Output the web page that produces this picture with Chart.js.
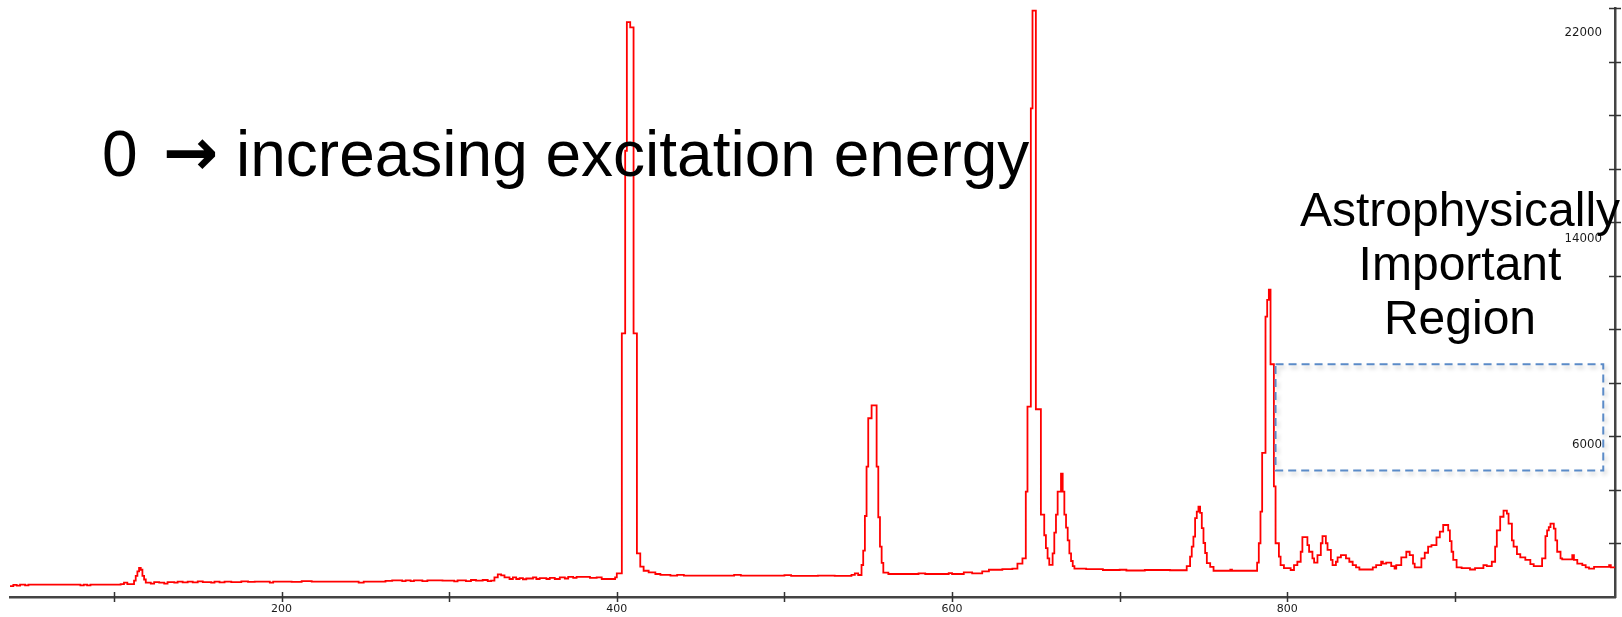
<!DOCTYPE html>
<html>
<head>
<meta charset="utf-8">
<script src="https://cdn.jsdelivr.net/npm/chart.js@4/dist/chart.umd.min.js"></script>
<style>
  html, body { margin: 0; padding: 0; background: #fff; }
  #wrap { position: relative; width: 1622px; height: 617px; overflow: hidden; }
  canvas { position: absolute; left: 0; top: 0; }
  .note { position: absolute; color: #000; font-family: "Liberation Sans", Arial, sans-serif; white-space: nowrap; }
  #t0 { left: 102px; top: 122px; font-size: 64px; line-height: 64px; }
  #tarr { left: 163px; top: 120px; font-family: "DejaVu Sans", sans-serif; font-weight: bold; font-size: 66px; line-height: 66px; }
  #t1 { left: 236px; top: 122px; font-size: 64px; line-height: 64px; }
  #region { left: 1260px; width: 400px; top: 183px; font-size: 48px; line-height: 54px; text-align: center; }
  .ylab { position: absolute; font-family: "DejaVu Sans", sans-serif; font-size: 11.8px; line-height: 14px; height: 14px; color: #1a1a1a; text-align: right; white-space: nowrap; }
</style>
</head>
<body>
<div id="wrap">
  <canvas id="c" width="1622" height="617"></canvas>
  <div id="ylabels"></div>
  <div class="note" id="t0">0</div>
  <div class="note" id="tarr">→</div>
  <div class="note" id="t1">increasing excitation energy</div>
  <div class="note" id="region">Astrophysically<br>Important<br>Region</div>
</div>
<script>
// ---- data (channel = start of bin, counts held until next channel) ----
const channel = [
  38,40,42,44,47,49,80,82,84,86,104,106,108,112,113,114,115,116,117,118,119,122,124,127,130,132,136,138,141,144,147,150,153,158,160,163,166,170,176,180,184,190,193,195,206,212,218,230,246,249,262,266,272,274,277,279,284,287,296,300,303,305,310,313,316,320,323,325,327,329,331,333,336,338,340,342,344,346,350,352,354,358,360,363,366,369,371,374,376,382,384,388,391,397,399,
  400,403,405,406,408,410,412,414,416,419,423,426,432,436,440,470,474,500,504,520,530,540,542,544,
  546,547,548,549,550,552,555,556,557,558,559,562,580,584,598,600,607,612,618,622,630,636,639,642,644,645,647,648,650,653,655,656,657,658,660,661,662,663,665,666,667,668,669,670,671,672,673,680,690,700,704,715,730,
  740,742,743,744,745,746,747,748,749,750,751,752,754,756,766,767,782,783,784,785,787,788,789,790,792,793,795,796,798,802,804,806,808,809,812,813,815,816,818,820,821,823,824,826,827,829,830,832,835,837,839,841,843,851,853,856,857,859,862,864,865,868,871,873,875,876,880,882,884,886,889,891,893,896,897,898,899,901,904,909,912,917,919,922,924,925,927,929,931,932,934,935,937,939,942,945,947,952,954,955,956,957,959,960,961,963,964,970,971,973,976,978,980,983,992,993,995.5
];
const counts = [
  420,470,440,480,450,480,450,480,450,480,500,560,500,640,820,1000,1130,1060,820,680,560,520,580,560,520,580,560,600,570,600,570,610,580,560,600,570,600,580,610,590,600,600,560,600,590,620,600,600,560,600,630,650,620,650,620,650,620,650,640,640,610,650,620,660,640,660,620,640,760,880,840,760,700,760,700,730,690,720,760,700,730,700,740,700,760,720,780,740,780,780,740,760,700,700,760,
  920,10250,17350,22350,22150,10250,1700,1180,1020,960,895,860,830,860,830,860,830,850,820,830,820,860,920,855,
  1245,1800,3150,5070,6950,7450,5070,3100,1960,1330,950,895,920,895,930,895,960,920,1000,1060,1080,1100,1300,1500,4100,7400,19000,22800,7300,3200,2400,1900,1500,1250,1700,2500,3200,4100,4800,4100,3200,2700,2200,1700,1400,1200,1100,1080,1050,1060,1030,1050,1040,
  1200,1570,1960,2350,3070,3320,3510,3270,2680,2100,1710,1320,1170,1020,1060,1020,1340,2090,3320,5600,10900,11550,11950,9050,4300,2090,1570,1240,1120,1050,1240,1370,1760,2330,2020,1760,1500,1340,1630,2090,2370,2090,1830,1440,1240,1370,1540,1630,1500,1370,1240,1150,1070,1150,1240,1370,1300,1340,1200,1100,1240,1540,1760,1630,1300,1150,1500,1720,1960,2020,2320,2540,2800,2590,2170,1760,1440,1150,1120,1070,1120,1240,1200,1370,1960,2590,3120,3360,3240,2850,2200,1960,1670,1540,1440,1280,1200,1500,2370,2590,2720,2850,2660,2200,1760,1500,1460,1630,1440,1300,1240,1150,1100,1170,1240,1150,1150
];
const xRange = [38, 995.5];
const yRange = [0, 22900];
const xTickStep = 100;
const xLabelled = [200, 400, 600, 800];
const yTickStep = 2000;
const yLabelled = [6000, 14000, 22000];
const regionBox = { x: [793, 988.5], y: [4920, 9050] };

const points = channel.map((c, i) => ({ x: c, y: counts[i] }));

// tick marks crossing both axes, positioned by the chart's scales
const axisPlugin = {
  id: 'crossTicks',
  afterDraw(chart) {
    const ctx = chart.ctx;
    const xs = chart.scales.x, ys = chart.scales.y;
    const area = chart.chartArea;
    ctx.save();
    ctx.strokeStyle = '#333';
    ctx.lineWidth = 1.5;
    xs.ticks.forEach(t => {
      const px = Math.round(xs.getPixelForValue(t.value)) + 0.5;
      ctx.beginPath(); ctx.moveTo(px, area.bottom - 5); ctx.lineTo(px, area.bottom + 5); ctx.stroke();
    });
    ys.ticks.forEach(t => {
      if (t.value <= 0) return;
      const py = Math.round(ys.getPixelForValue(t.value)) + 0.5;
      ctx.beginPath(); ctx.moveTo(area.right - 6, py); ctx.lineTo(area.right + 6, py); ctx.stroke();
    });
    ctx.restore();
  }
};

const boxPlugin = {
  id: 'regionBox',
  afterDatasetsDraw(chart) {
    const ctx = chart.ctx;
    const xs = chart.scales.x, ys = chart.scales.y;
    const x1 = xs.getPixelForValue(regionBox.x[0]), x2 = xs.getPixelForValue(regionBox.x[1]);
    const y1 = ys.getPixelForValue(regionBox.y[1]), y2 = ys.getPixelForValue(regionBox.y[0]);
    ctx.save();
    ctx.strokeStyle = '#5B8BC8';
    ctx.lineWidth = 2;
    ctx.setLineDash([8, 5]);
    ctx.shadowColor = 'rgba(0,0,0,0.22)';
    ctx.shadowBlur = 4;
    ctx.shadowOffsetX = 2;
    ctx.shadowOffsetY = 3;
    ctx.strokeRect(x1, y1, x2 - x1, y2 - y1);
    ctx.restore();
  }
};

const chart = new Chart(document.getElementById('c'), {
  type: 'line',
  data: {
    datasets: [{
      data: points,
      borderColor: '#ff0000',
      borderWidth: 1.8,
      pointRadius: 0,
      stepped: true,
      tension: 0,
      fill: false
    }]
  },
  options: {
    responsive: false,
    devicePixelRatio: 1,
    animation: false,
    events: [],
    layout: { padding: { left: 10, top: 8, right: 0, bottom: 0 } },
    plugins: { legend: { display: false }, tooltip: { enabled: false } },
    scales: {
      x: {
        type: 'linear',
        min: xRange[0], max: xRange[1],
        ticks: {
          stepSize: xTickStep, includeBounds: false, autoSkip: false, maxRotation: 0,
          padding: -2,
          color: '#1a1a1a',
          font: { family: 'DejaVu Sans', size: 11 },
          callback: v => xLabelled.includes(v) ? String(v) : ''
        },
        grid: { display: false },
        border: { display: true, color: '#444', width: 2.5 },
        afterFit: s => { s.height = 20; }
      },
      y: {
        type: 'linear',
        position: 'right',
        min: yRange[0], max: yRange[1],
        ticks: { stepSize: yTickStep, includeBounds: false, autoSkip: false, display: false },
        grid: { display: false },
        border: { display: true, color: '#444', width: 2.5 },
        afterFit: s => { s.width = 7; }
      }
    }
  },
  plugins: [axisPlugin, boxPlugin]
});

// y tick labels, placed inside the plot left of the right axis, from the y scale
(function placeYLabels() {
  const ys = chart.scales.y;
  const area = chart.chartArea;
  const holder = document.getElementById('ylabels');
  yLabelled.forEach(v => {
    const d = document.createElement('div');
    d.className = 'ylab';
    d.textContent = String(v);
    d.style.right = (1622 - (area.right - 13)) + 'px';
    d.style.top = (ys.getPixelForValue(v) - 6) + 'px';
    holder.appendChild(d);
  });
})();
</script>
</body>
</html>
